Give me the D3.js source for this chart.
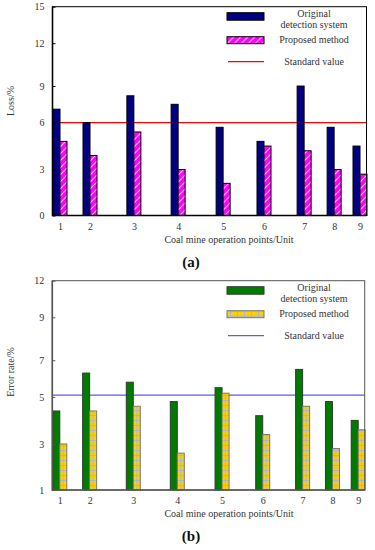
<!DOCTYPE html>
<html>
<head>
<meta charset="utf-8">
<script src="https://cdn.jsdelivr.net/npm/d3@7"></script>
<style>
  body { margin: 0; background: #fff; }
  text { font-family: "Liberation Serif", "Times New Roman", serif; }
</style>
</head>
<body>
<script>
// data
const units = ["1", "2", "3", "4", "5", "6", "7", "8", "9"];
const unitPos = [1, 1.8, 2.97, 4.15, 5.35, 6.44, 7.51, 8.31, 9];

const lossTicks = [0, 3, 6, 9, 12, 15];
const lossOriginal = [7.1, 6.0, 8.2, 7.5, 5.7, 4.8, 9.0, 5.7, 4.5];
const lossProposed = [4.8, 3.9, 5.4, 3.0, 2.1, 4.5, 4.2, 3.0, 2.7];
const lossStandard = 6;

const errTicks = [1, 3, 5, 7, 9, 12];
const errOriginal = [4.4, 6.3, 5.8, 4.8, 5.5, 4.2, 6.5, 4.8, 4.0];
const errProposed = [3.0, 4.4, 4.6, 2.6, 5.2, 3.4, 4.6, 2.8, 3.6];
const errStandard = 5.1;

const legendNames = [["Original", "detection system"], ["Proposed method"], ["Standard value"]];

// the tick labels of the source are not evenly spaced on the axis
const tickFrac = [0, 0.22, 0.445, 0.62, 0.825, 1];

const W = 375, H = 550, barW = 7;

const svg = d3.select("body").append("svg")
    .attr("width", W)
    .attr("height", H);

const defs = svg.append("defs");

let pink = defs.append("pattern")
    .attr("id", "pinkHatch")
    .attr("patternUnits", "userSpaceOnUse")
    .attr("width", 7).attr("height", 7);
pink.append("rect").attr("width", 7).attr("height", 7).attr("fill", "#ff00ff");
pink.append("path")
    .attr("d", "M-1,8 L8,-1 M-1,1 L1,-1 M6,8 L8,6")
    .attr("stroke", "#f6c6f6")
    .attr("stroke-width", 1.1);

let yellow = defs.append("pattern")
    .attr("id", "yellowGrid")
    .attr("patternUnits", "userSpaceOnUse")
    .attr("width", 7).attr("height", 5);
yellow.append("rect").attr("width", 7).attr("height", 5).attr("fill", "#ffd000");
yellow.append("path")
    .attr("d", "M0,0.5 H7 M3.5,0 V5")
    .attr("stroke", "#a9b8d2")
    .attr("stroke-width", 1);

function panel(o) {
    const g = svg.append("g");

    const y = d3.scaleLinear()
        .domain(o.ticks)
        .range(tickFrac.map(function(f) { return o.bottom - f * (o.bottom - o.top); }));

    const x = d3.scaleLinear()
        .domain([1, 9])
        .range([o.left + 7.5, o.right - 6.5]);

    // standard value line sits behind the bars
    g.append("line")
        .attr("x1", o.left).attr("x2", o.right)
        .attr("y1", y(o.standard)).attr("y2", y(o.standard))
        .attr("stroke", o.lineColor)
        .attr("stroke-width", 1.2);

    const bars = g.append("g")
        .selectAll("g")
        .data(units)
        .enter().append("g");

    bars.append("rect")
        .attr("x", function(d, i) { return x(unitPos[i]) - barW; })
        .attr("y", function(d, i) { return y(o.original[i]); })
        .attr("width", barW)
        .attr("height", function(d, i) { return o.bottom - y(o.original[i]); })
        .attr("fill", o.origColor)
        .attr("stroke", o.origStroke)
        .attr("stroke-width", 1);

    bars.append("g")
        .attr("transform", function(d, i) { return "translate(" + x(unitPos[i]) + ",0)"; })
        .append("rect")
        .attr("x", 0)
        .attr("y", function(d, i) { return y(o.proposed[i]); })
        .attr("width", barW)
        .attr("height", function(d, i) { return o.bottom - y(o.proposed[i]); })
        .attr("fill", o.propFill)
        .attr("stroke", o.propStroke)
        .attr("stroke-width", 1);

    // frame
    g.append("rect")
        .attr("x", o.left).attr("y", o.top)
        .attr("width", o.right - o.left).attr("height", o.bottom - o.top)
        .attr("fill", "none")
        .attr("stroke", o.frame)
        .attr("stroke-width", 1);
    g.append("path")
        .attr("d", "M" + o.left + "," + o.top + " V" + o.bottom + " H" + o.right)
        .attr("fill", "none")
        .attr("stroke", o.frame)
        .attr("stroke-width", 1.6);

    const yAxis = g.append("g")
        .attr("transform", "translate(" + o.left + ",0)")
        .call(d3.axisLeft(y).tickValues(o.ticks).tickSize(-3).tickPadding(8));
    yAxis.select(".domain").remove();
    yAxis.selectAll("line").attr("stroke", o.frame);
    yAxis.selectAll("text")
        .attr("fill", "#333")
        .style("font-size", "10px")
        .style("font-family", "Liberation Serif, serif");

    const xAxis = g.append("g")
        .attr("transform", "translate(0," + o.bottom + ")")
        .call(d3.axisBottom(x).tickValues(unitPos)
            .tickFormat(function(d, i) { return units[i]; })
            .tickSize(0).tickPadding(7));
    xAxis.select(".domain").remove();
    xAxis.selectAll("text")
        .attr("fill", "#333")
        .style("font-size", "10px")
        .style("font-family", "Liberation Serif, serif");

    g.append("text")
        .attr("x", 229)
        .attr("y", o.bottom + 27)
        .attr("text-anchor", "middle")
        .attr("fill", "#333")
        .style("font-size", "10px")
        .text("Coal mine operation points/Unit");

    g.append("text")
        .attr("transform", "translate(14," + o.ylabelY + ") rotate(-90)")
        .attr("text-anchor", "middle")
        .attr("fill", "#333")
        .style("font-size", "10px")
        .text(o.ylabel);

    g.append("text")
        .attr("x", 191)
        .attr("y", o.bottom + 51)
        .attr("text-anchor", "middle")
        .attr("fill", "#111")
        .style("font-size", "15px")
        .style("font-weight", "bold")
        .text(o.caption);

    // legend
    const lg = g.append("g").attr("transform", "translate(227," + (o.top + 6) + ")");
    lg.append("rect")
        .attr("x", 0).attr("y", 0).attr("width", 37).attr("height", 7.5)
        .attr("fill", o.origColor).attr("stroke", o.origStroke);
    lg.append("g").attr("transform", "translate(0,24)")
        .append("rect")
        .attr("width", 37).attr("height", 7)
        .attr("fill", o.propFill).attr("stroke", o.propStroke);
    lg.append("line")
        .attr("x1", 1).attr("x2", 37).attr("y1", 49).attr("y2", 49)
        .attr("stroke", o.lineColor).attr("stroke-width", 1.2);

    const legY = [[4, 15.5], [30.5], [52]];
    legendNames.forEach(function(lines, k) {
        lines.forEach(function(t, j) {
            lg.append("text")
                .attr("x", 87)
                .attr("y", legY[k][j])
                .attr("text-anchor", "middle")
                .attr("fill", "#333")
                .style("font-size", "10px")
                .text(t);
        });
    });
}

panel({
    top: 6.7, bottom: 215.5, left: 52.5, right: 366.5,
    ticks: lossTicks, original: lossOriginal, proposed: lossProposed, standard: lossStandard,
    origColor: "#000080", origStroke: "#000", propFill: "url(#pinkHatch)", propStroke: "#000",
    lineColor: "#ff0000", frame: "#000",
    ylabel: "Loss/%", ylabelY: 101, caption: "(a)"
});

panel({
    top: 280.7, bottom: 490, left: 52.3, right: 364.7,
    ticks: errTicks, original: errOriginal, proposed: errProposed, standard: errStandard,
    origColor: "#007a00", origStroke: "#2d3d2d", propFill: "url(#yellowGrid)", propStroke: "#777",
    lineColor: "#5a5af5", frame: "#555",
    ylabelY: 372, ylabel: "Error rate/%", caption: "(b)"
});
</script>
</body>
</html>
